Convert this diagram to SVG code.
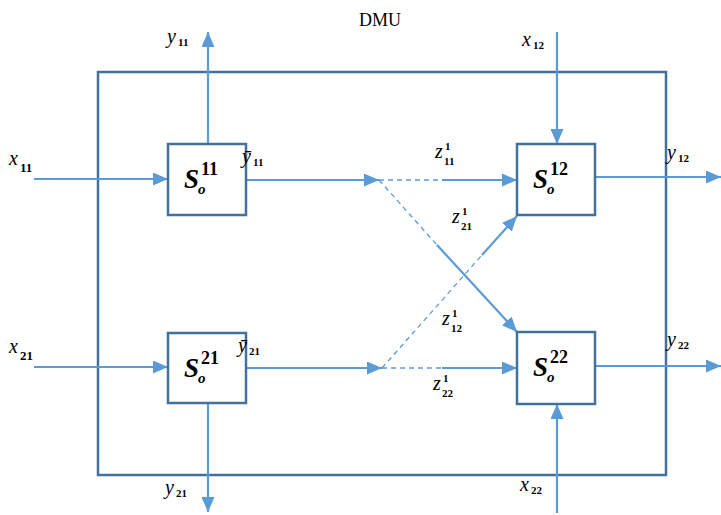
<svg xmlns="http://www.w3.org/2000/svg" width="721" height="515" viewBox="0 0 721 515">
<style>
.box{fill:#fff;stroke:#41719C;stroke-width:2.5}
.frame{fill:none;stroke:#41719C;stroke-width:2.5}
.ar{fill:none;stroke:#5B9BD5;stroke-width:2.2}
.dash{fill:none;stroke:#5B9BD5;stroke-width:1.3;stroke-dasharray:5,4}
.v{font-family:"Liberation Serif",serif;font-style:italic;font-size:20px;fill:#000}
.sb{font-family:"Liberation Serif",serif;font-weight:bold;font-size:11px;fill:#000}
.S{font-family:"Liberation Serif",serif;font-style:italic;font-weight:bold;font-size:27px;fill:#000}
.Ssup{font-family:"Liberation Serif",serif;font-weight:bold;font-size:18px;fill:#000}
.Ssub{font-family:"Liberation Serif",serif;font-style:italic;font-weight:bold;font-size:15px;fill:#000}
.t{font-family:"Liberation Serif",serif;font-size:18px;fill:#000}
</style>
<defs>
<marker id="ah" viewBox="0 0 15 13" refX="15" refY="6.5" markerWidth="15" markerHeight="13" markerUnits="userSpaceOnUse" orient="auto">
<path d="M0,0 L15,6.5 L0,13 z" fill="#5B9BD5"/>
</marker>
</defs>
<rect class="frame" x="98" y="72" width="568" height="403"/>
<text class="t" x="380" y="26" text-anchor="middle">DMU</text>
<g id="connectors">
<line class="ar" x1="34" y1="179" x2="168" y2="179" marker-end="url(#ah)"/>
<line class="ar" x1="34" y1="367" x2="168" y2="367" marker-end="url(#ah)"/>
<line class="ar" x1="208" y1="144" x2="208" y2="32" marker-end="url(#ah)"/>
<line class="ar" x1="208" y1="403" x2="208" y2="512" marker-end="url(#ah)"/>
<line class="ar" x1="246" y1="180" x2="379" y2="180" marker-end="url(#ah)"/>
<line class="ar" x1="246" y1="368" x2="382" y2="368" marker-end="url(#ah)"/>
<line class="dash" x1="379" y1="180" x2="442" y2="180"/>
<line class="ar" x1="442" y1="180" x2="517" y2="180" marker-end="url(#ah)"/>
<line class="dash" x1="382" y1="368" x2="442" y2="368"/>
<line class="ar" x1="442" y1="368" x2="517" y2="368" marker-end="url(#ah)"/>
<line class="dash" x1="379" y1="180" x2="437" y2="245"/>
<line class="ar" x1="437" y1="245" x2="517" y2="332" marker-end="url(#ah)"/>
<line class="dash" x1="382" y1="368" x2="482" y2="255"/>
<line class="ar" x1="482" y1="255" x2="517" y2="216" marker-end="url(#ah)"/>
<line class="ar" x1="557" y1="32" x2="557" y2="144" marker-end="url(#ah)"/>
<line class="ar" x1="557" y1="513" x2="557" y2="404" marker-end="url(#ah)"/>
<line class="ar" x1="595" y1="177" x2="721" y2="177" marker-end="url(#ah)"/>
<line class="ar" x1="595" y1="366" x2="721" y2="366" marker-end="url(#ah)"/>
</g>
<g id="S11">
<rect class="box" x="168" y="144" width="78" height="71"/>
<text class="S" x="184" y="188">S</text><text class="Ssup" x="201" y="175">11</text><text class="Ssub" x="198" y="194">o</text>
</g>
<g id="S21">
<rect class="box" x="168" y="333" width="78" height="70"/>
<text class="S" x="184" y="377">S</text><text class="Ssup" x="201" y="364">21</text><text class="Ssub" x="198" y="383">o</text>
</g>
<g id="S12">
<rect class="box" x="517" y="144" width="78" height="71"/>
<text class="S" x="533" y="188">S</text><text class="Ssup" x="550" y="175">12</text><text class="Ssub" x="547" y="194">o</text>
</g>
<g id="S22">
<rect class="box" x="517" y="332" width="78" height="72"/>
<text class="S" x="533" y="376">S</text><text class="Ssup" x="550" y="363">22</text><text class="Ssub" x="547" y="382">o</text>
</g>
<g id="labels">
<text class="v" x="167" y="43">y</text><text class="sb" x="178" y="46">11</text>
<text class="v" x="9" y="165">x</text><text class="sb" x="20" y="172" style="font-size:13px">11</text>
<text class="v" x="9" y="353">x</text><text class="sb" x="20" y="360" style="font-size:13px">21</text>
<text class="v" x="242" y="163">ȳ</text><text class="sb" x="253" y="166">11</text>
<text class="v" x="238" y="352">ȳ</text><text class="sb" x="249" y="355">21</text>
<text class="v" x="165" y="494">y</text><text class="sb" x="176" y="497">21</text>
<text class="v" x="522" y="46">x</text><text class="sb" x="533" y="49">12</text>
<text class="v" x="667" y="159">y</text><text class="sb" x="678" y="162">12</text>
<text class="v" x="667" y="346">y</text><text class="sb" x="678" y="349">22</text>
<text class="v" x="520" y="491">x</text><text class="sb" x="531" y="494">22</text>
<text class="v" x="435" y="158">z</text><text class="sb" x="445" y="150">1</text><text class="sb" x="444" y="165">11</text>
<text class="v" x="452" y="223">z</text><text class="sb" x="462" y="215">1</text><text class="sb" x="461" y="230">21</text>
<text class="v" x="442" y="325">z</text><text class="sb" x="452" y="317">1</text><text class="sb" x="451" y="332">12</text>
<text class="v" x="433" y="390">z</text><text class="sb" x="443" y="382">1</text><text class="sb" x="442" y="397">22</text>
</g>
</svg>
